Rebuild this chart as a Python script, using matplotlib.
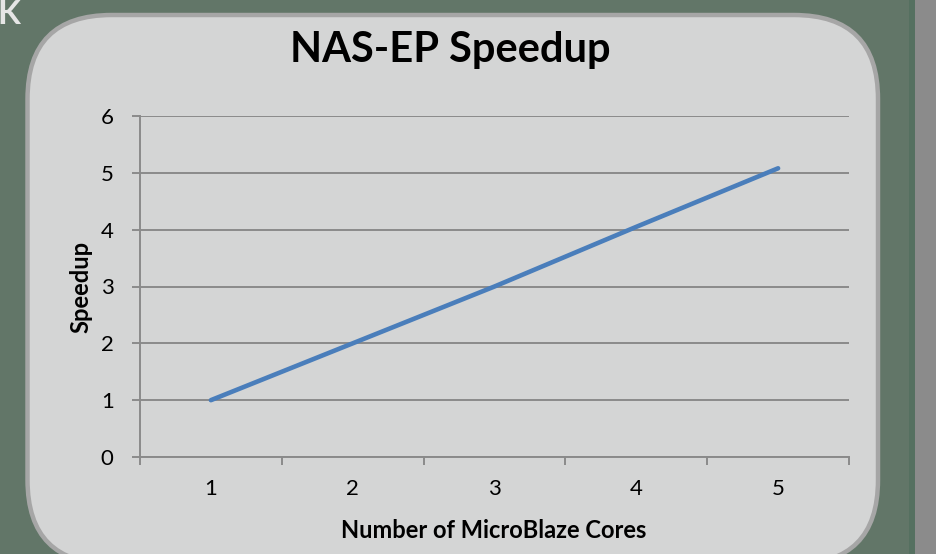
import matplotlib.pyplot as plt
from matplotlib.patches import FancyBboxPatch, Rectangle

cores = [1, 2, 3, 4, 5]
speedup = [1.0, 2.0, 3.0, 4.05, 5.08]
y_ticks = [0, 1, 2, 3, 4, 5, 6]

W, H = 936, 554
plt.rcParams['font.family'] = ['Lato', 'DejaVu Sans']

fig = plt.figure(figsize=(W / 100, H / 100), dpi=100)
fig.patch.set_facecolor('#627668')

# background decoration layer, pixel coords (y down)
bg = fig.add_axes([0, 0, 1, 1])
bg.set_xlim(0, W)
bg.set_ylim(H, 0)
bg.axis('off')
bg.add_patch(Rectangle((909, 0), 6, H, color='#557060', lw=0))
bg.add_patch(Rectangle((915, 0), W - 915, H, color='#8b8b8b', lw=0))
R = 84
bx0, by0, bx1, by1 = 27.5, 15, 878, 564
bg.add_patch(FancyBboxPatch((bx0 + R, by0 + R), bx1 - bx0 - 2 * R, by1 - by0 - 2 * R,
                            boxstyle=f'round,pad={R}', facecolor='#d4d5d5',
                            edgecolor='#a6a6a6', lw=3.2))
bg.text(-3, 24, 'K', color='#e6e6e6', fontsize=24, fontweight='bold', va='baseline', ha='left')
bg.text(450, 62, 'NAS-EP Speedup', ha='center', va='baseline', fontsize=30, fontweight='bold')
bg.text(81, 287, 'Speedup', ha='center', va='center', rotation=90, fontsize=17, fontweight='bold')
bg.text(494, 530, 'Number of MicroBlaze Cores', ha='center', va='center', fontsize=17, fontweight='bold')

# plot area
l, r, t, b = 140, 849, 116, 457
ax = fig.add_axes([l / W, 1 - b / H, (r - l) / W, (b - t) / H])
ax.set_facecolor('none')
ax.plot(cores, speedup, color='#4a7ebb', lw=3.3, solid_capstyle='round')
ax.set_xlim(0.5, 5.5)
ax.set_ylim(0, 6)
ax.set_yticks(y_ticks)
ax.set_xticks(cores)
ax.set_xticks([0.5, 1.5, 2.5, 3.5, 4.5, 5.5], minor=True)
ax.tick_params(axis='x', which='major', length=0, pad=16, labelsize=16)
ax.tick_params(axis='x', which='minor', length=6, width=1.4, color='#8a8a8a')
ax.tick_params(axis='y', length=6, width=1.4, color='#8a8a8a', pad=13, labelsize=16)
ax.grid(axis='y', color='#8a8a8a', lw=1.4)
ax.set_axisbelow(True)
for s in ['top', 'right']:
    ax.spines[s].set_visible(False)
for s in ['left', 'bottom']:
    ax.spines[s].set_color('#8a8a8a')
    ax.spines[s].set_linewidth(1.4)

fig.savefig('out.png', dpi=100, facecolor=fig.get_facecolor())
